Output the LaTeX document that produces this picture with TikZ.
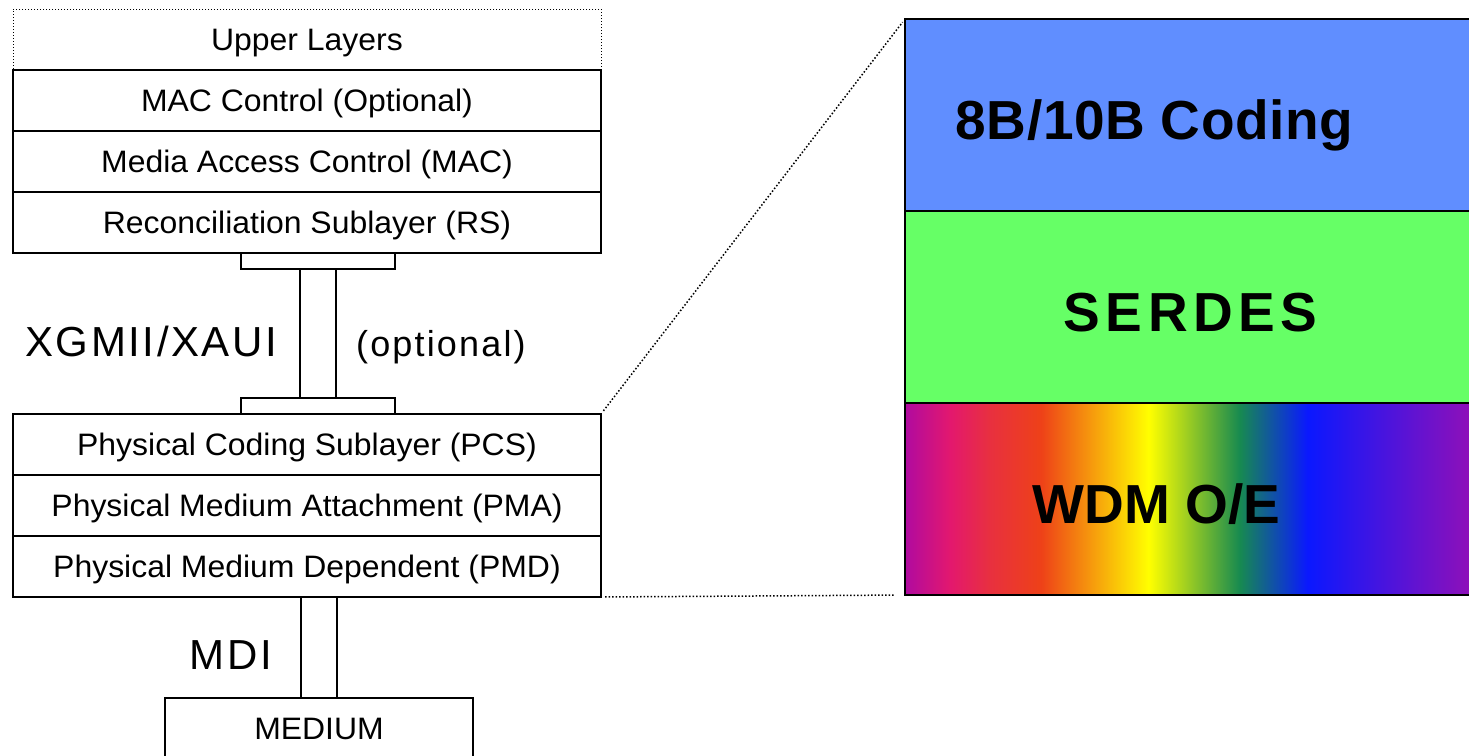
\documentclass[tikz,border=0pt]{standalone}
\usepackage{fontspec}
\setmainfont{Liberation Sans}
\newfontfamily\stackfam{Liberation Sans}[FakeStretch=1.03]
\newfontfamily\widefont{Liberation Sans}[LetterSpace=6]
\newfontfamily\bandfont{Liberation Sans}
\usetikzlibrary{positioning}

\newcommand{\stackfont}{\stackfam\fontsize{31}{37}\selectfont}
\newcommand{\ifacefont}{\widefont\fontsize{42}{50}\selectfont}
\newcommand{\bandtext}{\bandfont\bfseries\fontsize{55}{66}\selectfont}

\definecolor{codeblue}{HTML}{608EFF}
\definecolor{serdesgreen}{HTML}{66FF66}
\definecolor{rbpurple}{HTML}{B00AA0}
\definecolor{rbpink}{HTML}{E3186E}
\definecolor{rbcrimson}{HTML}{E8303F}
\definecolor{rbred}{HTML}{EE4118}
\definecolor{rbyellow}{HTML}{FFFF00}
\definecolor{rbgreen}{HTML}{178A50}
\definecolor{rbblue}{HTML}{0A18FF}
\definecolor{rbviolet}{HTML}{9010B8}

\pgfdeclarehorizontalshading{rainbow}{100bp}{color(0bp)=(rbpurple); color(25bp)=(rbpurple);
  color(29bp)=(rbpink); color(32.5bp)=(rbcrimson); color(37bp)=(rbred);
  color(46.5bp)=(rbyellow); color(54.5bp)=(rbgreen); color(60.5bp)=(rbblue);
  color(75bp)=(rbviolet); color(100bp)=(rbviolet)}

\begin{document}
\begin{tikzpicture}[x=1pt,y=-1pt,
    layer/.style={draw, line width=2pt, outer sep=0pt, minimum width=588pt, minimum height=61pt,
      text height=22pt, text depth=0pt, font=\stackfont},
    uplayer/.style={layer, draw=black, line width=1pt, dotted},
    flange/.style={draw, line width=2pt, outer sep=0pt, minimum width=154pt, minimum height=16pt, inner sep=0pt},
    bar/.style={draw, line width=2pt, outer sep=0pt, minimum width=36pt, inner sep=0pt},
    band/.style={draw, line width=2pt, outer sep=0pt, minimum width=567pt, minimum height=192pt},
    bandlabel/.style={inner sep=0pt, text height=48pt, text depth=0pt, font=\bandtext}]
    \useasboundingbox (0,0) rectangle (1469,755);

    % MAC side of the stack
    \node[uplayer] (upper) at (307,39.5) {Upper Layers};
    \node[layer, below=0pt of upper] (macctl) {MAC Control (Optional)};
    \node[layer, below=0pt of macctl] (mac) {Media Access Control (MAC)};
    \node[layer, below=0pt of mac] (rs) {Reconciliation Sublayer (RS)};

    % XGMII / XAUI link
    \node[flange, below=0pt of rs, xshift=11pt] (xgtop) {};
    \node[bar, minimum height=129pt, below=0pt of xgtop] (xgbar) {};
    \node[flange, below=0pt of xgbar] (xgbot) {};
    \node[left=23pt of xgbar, yshift=-8pt, font=\ifacefont, inner sep=0pt] (xgmii) {XGMII/XAUI};
    \node[right=20pt of xgbar, yshift=-14pt, font=\widefont\fontsize{36}{43}\selectfont, inner sep=0pt] (optional) {(optional)};

    % PHY side of the stack
    \node[layer, below=0pt of xgbot, xshift=-11pt] (pcs) {Physical Coding Sublayer (PCS)};
    \node[layer, below=0pt of pcs] (pma) {Physical Medium Attachment (PMA)};
    \node[layer, below=0pt of pma] (pmd) {Physical Medium Dependent (PMD)};

    % MDI and medium
    \node[bar, minimum height=101pt, below=0pt of pmd, xshift=12pt] (mdibar) {};
    \node[left=29pt of mdibar, yshift=-8pt, font=\ifacefont, inner sep=0pt] (mdi) {MDI};
    \node[layer, minimum width=308pt, minimum height=60pt, below=0pt of mdibar] (medium) {MEDIUM};

    % expanded PCS view
    \node[band, fill=codeblue] (coding) at (1188.5,115) {};
    \node[band, fill=serdesgreen, below=0pt of coding] (serdes) {};
    \node[band, shading=rainbow, draw=black, below=0pt of serdes] (wdm) {};
    \node[bandlabel, xshift=-34pt, font=\bandtext\addfontfeature{LetterSpace=1}] (codingtext) at (coding) {8B/10B Coding};
    \node[bandlabel, xshift=2pt, font=\bandtext\addfontfeature{LetterSpace=10}] (serdestext) at (serdes) {SERDES};
    \node[bandlabel, xshift=-32pt] (wdmtext) at (wdm) {WDM O/E};

    \draw[dotted, line width=1.5pt, shorten <=4pt, shorten >=4pt] (pcs.north east) -- (coding.north west);
    \draw[dotted, line width=1.5pt, shorten <=4pt, shorten >=10pt] (pmd.south east) -- (wdm.south west);
\end{tikzpicture}
\end{document}
